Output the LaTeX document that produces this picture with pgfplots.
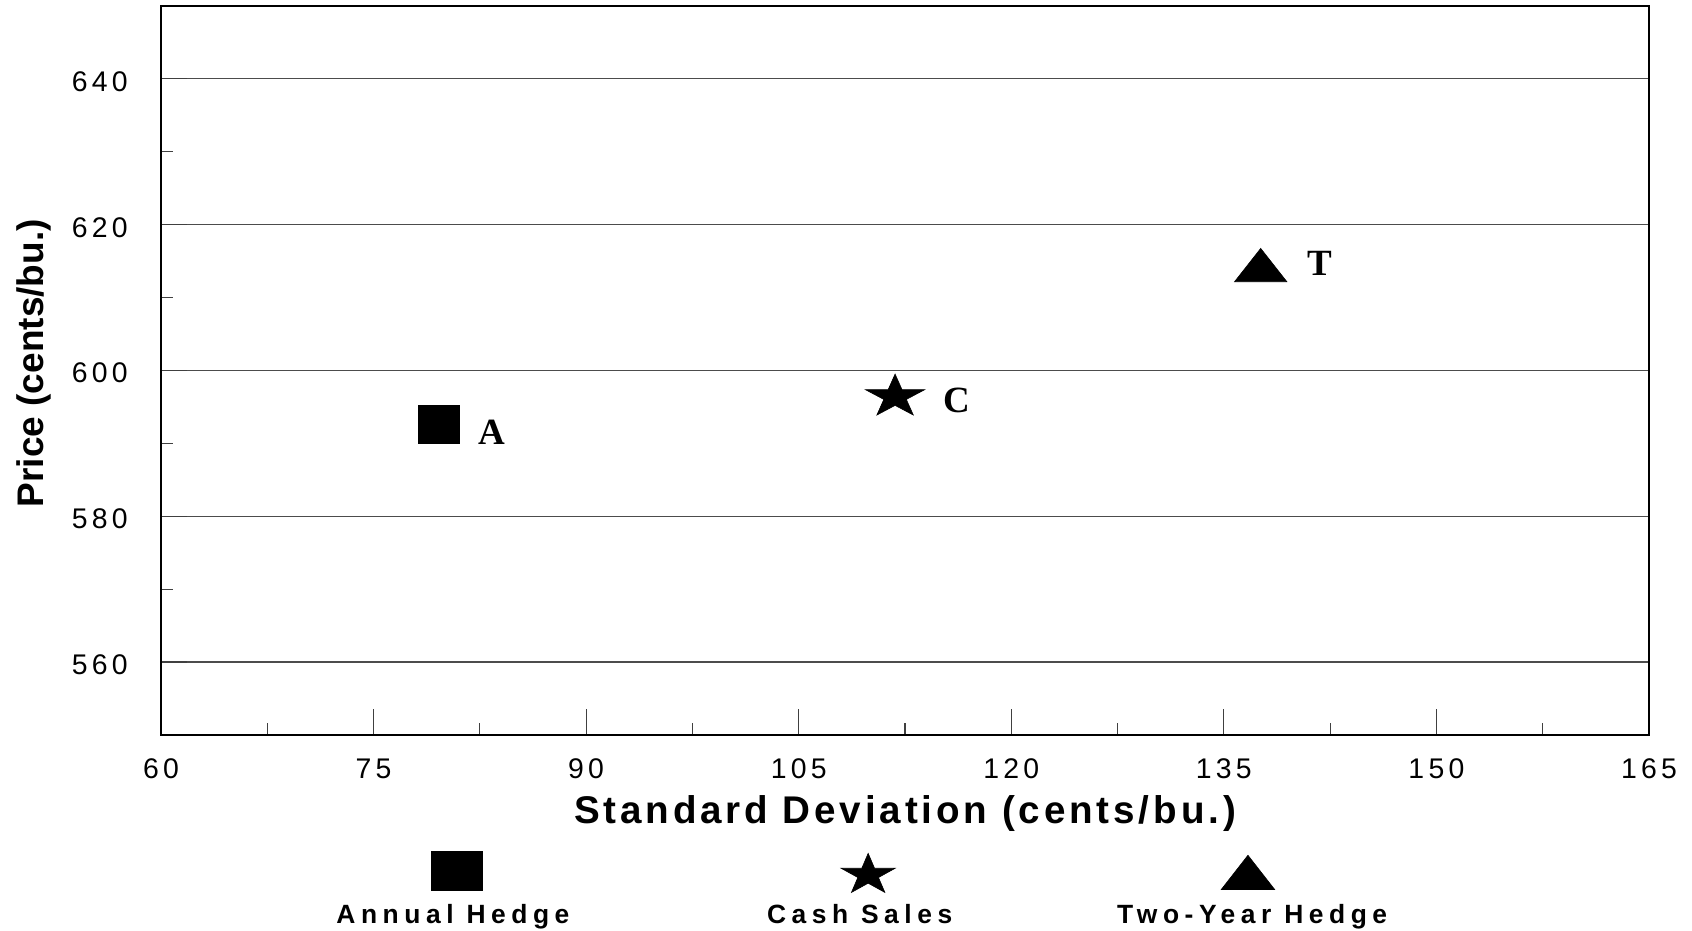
\documentclass[border=0pt]{standalone}
\usepackage{fontspec}
\setmainfont{Liberation Sans}
\newfontfamily\tickfont[LetterSpace=15]{Liberation Sans}
\newfontfamily\labfont[LetterSpace=10]{Liberation Sans}
\newfontfamily\legfont[LetterSpace=21]{Liberation Sans}
\newfontfamily\ptfont{Liberation Serif}
\usepackage{pgfplots}
\pgfplotsset{compat=1.18}

% filled five-pointed star
\pgfdeclareplotmark{fstar}{%
  \pgfpathmoveto{\pgfqpointpolar{90}{\pgfplotmarksize}}%
  \pgfpathlineto{\pgfpointscale{0.382}{\pgfqpointpolar{126}{\pgfplotmarksize}}}%
  \pgfpathlineto{\pgfqpointpolar{162}{\pgfplotmarksize}}%
  \pgfpathlineto{\pgfpointscale{0.382}{\pgfqpointpolar{198}{\pgfplotmarksize}}}%
  \pgfpathlineto{\pgfqpointpolar{234}{\pgfplotmarksize}}%
  \pgfpathlineto{\pgfpointscale{0.382}{\pgfqpointpolar{270}{\pgfplotmarksize}}}%
  \pgfpathlineto{\pgfqpointpolar{306}{\pgfplotmarksize}}%
  \pgfpathlineto{\pgfpointscale{0.382}{\pgfqpointpolar{342}{\pgfplotmarksize}}}%
  \pgfpathlineto{\pgfqpointpolar{18}{\pgfplotmarksize}}%
  \pgfpathlineto{\pgfpointscale{0.382}{\pgfqpointpolar{54}{\pgfplotmarksize}}}%
  \pgfpathclose
  \pgfusepathqfillstroke}

\begin{document}
\begin{tikzpicture}
\begin{axis}[
  at={(0,0)}, anchor=south west,
  scale only axis, width=744bp, height=364.5bp,
  xmin=60, xmax=165, ymin=550, ymax=650,
  xtick={60,75,...,165}, ytick={560,580,...,640},
  minor x tick num=1, minor y tick num=1,
  tick pos=left, tick align=inside,
  major tick length=13bp, minor tick length=6bp,
  every tick/.style={black!75, line width=0.6bp},
  ymajorgrids, major grid style={black!70, line width=0.6bp},
  axis line style={line width=1.2bp},
  /pgf/number format/assume math mode=true,
  /pgf/number format/set thousands separator={},
  ticklabel style={font=\tickfont\fontsize{14.2bp}{16bp}\selectfont, inner sep=0pt},
  xticklabel style={anchor=north, yshift=-11.7bp},
  yticklabel style={anchor=east, xshift=-16.4bp, yshift=-1.3bp},
  xlabel={Standard Deviation (cents/bu.)},
  xlabel style={font=\labfont\bfseries\fontsize{19.3bp}{22bp}\selectfont,
    at={(axis description cs:0.5,-0.1215)}, anchor=base, inner sep=0pt},
  ylabel={Price (cents/bu.)},
  ylabel style={font=\bfseries\fontsize{18.5bp}{22bp}\selectfont,
    at={(axis description cs:-0.0792,0.51)}, anchor=base, inner sep=0pt},
  clip=false,
]
\addplot[only marks, mark=square*, mark size=10.4bp,
  mark options={yscale=0.92, fill=black, draw=black, line width=0.3bp}]
  coordinates {(79.6,592.6)};
\addplot[only marks, mark=fstar, mark size=15.5bp,
  mark options={yscale=0.73, fill=black, draw=black, line width=0.3bp}]
  coordinates {(111.8,596.4)};
\addplot[only marks, mark=triangle*, mark size=15.1bp,
  mark options={yscale=0.735, fill=black, draw=black, line width=0.3bp}]
  coordinates {(137.6,613.7)};
\node[anchor=base west, inner sep=0pt, font=\ptfont\bfseries\fontsize{18.5bp}{20bp}\selectfont]
  at (axis cs:82.4,589.8) {A};
\node[anchor=base west, inner sep=0pt, font=\ptfont\bfseries\fontsize{18.5bp}{20bp}\selectfont]
  at (axis cs:115.2,594.2) {C};
\node[anchor=base west, inner sep=0pt, font=\ptfont\bfseries\fontsize{18.5bp}{20bp}\selectfont]
  at (axis cs:140.9,613.0) {T};
\end{axis}

% legend strip below the plot
\begin{axis}[
  at={(0,-98bp)}, anchor=south west,
  scale only axis, width=744bp, height=98bp,
  xmin=60, xmax=165, ymin=0, ymax=1,
  hide axis, clip=false,
]
\addplot[only marks, mark=square*, mark size=12.75bp,
  mark options={yscale=0.765, fill=black, draw=black, line width=0.3bp}]
  coordinates {(80.9,0.306)};
\addplot[only marks, mark=fstar, mark size=14.2bp,
  mark options={yscale=0.76, fill=black, draw=black, line width=0.3bp}]
  coordinates {(109.9,0.286)};
\addplot[only marks, mark=triangle*, mark size=15.4bp,
  mark options={yscale=0.74, fill=black, draw=black, line width=0.3bp}]
  coordinates {(136.7,0.27)};
\node[anchor=base, inner sep=0pt, font=\legfont\bfseries\fontsize{13.2bp}{15bp}\selectfont]
  at (axis cs:80.6,0.04) {Annual Hedge};
\node[anchor=base, inner sep=0pt, font=\legfont\bfseries\fontsize{13.2bp}{15bp}\selectfont]
  at (axis cs:109.3,0.04) {Cash Sales};
\node[anchor=base, inner sep=0pt, font=\legfont\bfseries\fontsize{13.2bp}{15bp}\selectfont]
  at (axis cs:137.0,0.04) {Two-Year Hedge};
\end{axis}

\pgfresetboundingbox
\path[use as bounding box] (-80.5bp,-98bp) rectangle (765.5bp,367.5bp);
\end{tikzpicture}
\end{document}
